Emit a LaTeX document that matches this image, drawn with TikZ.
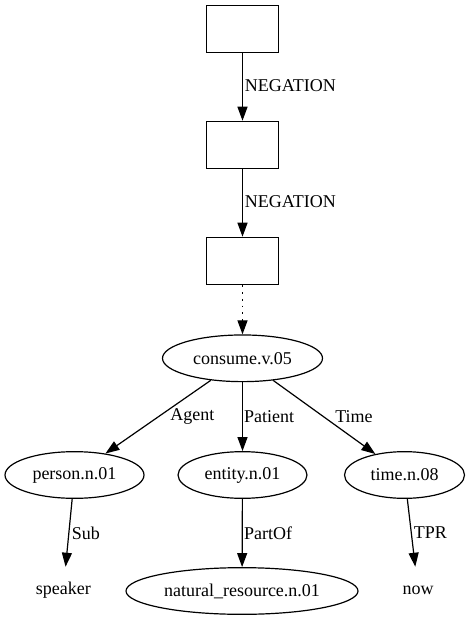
\documentclass[tikz,border=0pt]{standalone}
\usepackage{fontspec}
\setmainfont{Liberation Serif}
\usetikzlibrary{arrows.meta,shapes.geometric}
\begin{document}
\begin{tikzpicture}[x=0.75pt,y=-0.75pt,
  every node/.style={font=\fontsize{13.5}{16}\selectfont},
  box/.style={draw, line width=0.9pt, minimum width=54pt, minimum height=35.5pt, inner sep=0pt},
  ell/.style={draw, ellipse, line width=0.9pt, inner sep=0pt, minimum height=35pt},
  plain/.style={inner sep=0pt, minimum height=34.5pt, minimum width=30pt},
  lbl/.style={inner sep=0pt, anchor=west},
  edge/.style={line width=0.9pt, -{Triangle[length=10.5pt,width=7.5pt]}},
]
\useasboundingbox (0,0) rectangle (470,620);
% nodes
\node[box] (b1) at (242.5,28.8) {};
\node[box] (b2) at (242.5,145) {};
\node[box] (b3) at (242.5,261) {};
\node[ell, minimum width=120pt] (cons) at (242.5,358.3) {consume.v.05};
\node[ell, minimum width=104.25pt] (person) at (74.5,475) {person.n.01};
\node[ell, minimum width=96.75pt] (entity) at (242.5,475) {entity.n.01};
\node[ell, minimum width=90pt] (time) at (404.5,475) {time.n.08};
\node[plain] (speaker) at (63.3,590) {speaker};
\node[ell, minimum width=174pt] (nat) at (242,591) {natural\_resource.n.01};
\node[plain] (now) at (418,590) {now};
% edges
\draw[edge] (b1) -- (b2);
\draw[edge] (b2) -- (b3);
\draw[edge, dash pattern=on 1.3pt off 3.8pt] (b3) -- (cons);
\draw[edge] (cons) -- (person);
\draw[edge] (cons) -- (entity);
\draw[edge] (cons) -- (time);
\draw[edge] (person) -- (speaker);
\draw[edge] (entity) -- (nat);
\draw[edge] (time) -- (now);
% labels
\node[lbl] (lneg1) at (244.5,86) {NEGATION};
\node[lbl] (lneg2) at (244.5,202) {NEGATION};
\node[lbl] (lagent) at (170,416.7) {Agent};
\node[lbl] (lpatient) at (243.8,416.7) {Patient};
\node[lbl] (ltime) at (335,416.7) {Time};
\node[lbl] (lsub) at (71.5,533) {Sub};
\node[lbl] (lpartof) at (243.8,533) {PartOf};
\node[lbl] (ltpr) at (413.5,533) {TPR};
\end{tikzpicture}
\end{document}
